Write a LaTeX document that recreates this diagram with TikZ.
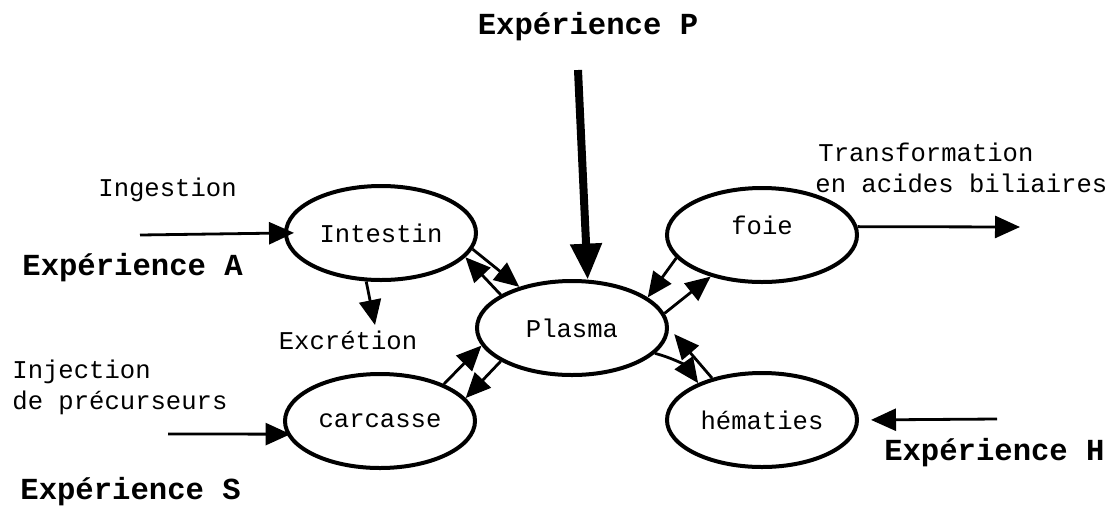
\documentclass[tikz,border=0pt]{standalone}
\usepackage{fontspec}
\setmainfont{Liberation Mono}
\usepackage{tikz}
\usetikzlibrary{shapes.geometric,arrows.meta,positioning,calc}

\begin{document}
\begin{tikzpicture}[
  x=0.5pt, y=-0.5pt,
  organe/.style={
    draw,
    ellipse,
    line width=2pt,
    minimum width=95pt,
    minimum height=47pt,
    inner sep=0pt,
    font=\fontsize{12.8}{15}\selectfont
    },
  legende/.style={font=\fontsize{12.8}{15}\selectfont, inner sep=0pt},
  experience/.style={font=\fontsize{15.3}{18}\selectfont\bfseries, inner sep=0pt},
  fleche/.style={line width=1.4pt, -{Triangle[length=12.5pt,width=11pt]}},
  grossefleche/.style={line width=4pt, -{Triangle[length=18pt,width=15pt]}}
]
\useasboundingbox (0,0) rectangle (1120,505);

% compartiments
\node[organe] (intestin) at (381,233) {\raisebox{-7pt}{Intestin}\hspace{11pt}};
\node[organe] (plasma)   at (572,328) {Plasma};
\node[organe] (foie)     at (762,235) {\raisebox{10pt}{foie}};
\node[organe] (carcasse) at (380,421) {carcasse\hspace{10pt}};
\node[organe] (hematies) at (762,420) {hématies};

% textes
\node[experience] (expP) at (588,27) {Expérience P};
\node[legende, anchor=west] (ingestion) at (98,190) {Ingestion};
\node[experience, anchor=west] (expA) at (22,268) {Expérience A};
\node[legende] (excretion) at (348,340) {Excrétion};
\node[legende, anchor=west] (injection) at (12,372) {Injection};
\node[legende, anchor=west] (precurseurs) at (12,403) {de précurseurs};
\node[experience, anchor=west] (expS) at (20,492) {Expérience S};
\node[legende, anchor=west] (transfo) at (818,152) {Transformation};
\node[legende, anchor=west] (acides) at (815,183) {en acides biliaires};
\node[experience, anchor=east] (expH) at (1105,453) {Expérience H};

% extremites libres
\coordinate (debutP) at (578,70);
\coordinate (debutA) at (140,235);
\coordinate (finExc) at (375,325);
\coordinate (debutS) at (168,434);
\coordinate (finFoie) at (1020,227);
\coordinate (debutH) at (997,419);

% fleches
\draw[grossefleche] (debutP) -- (plasma.72);
\draw[fleche, shorten >=-5pt] (debutA) -- (intestin.west);
\draw[fleche] (intestin.-107) -- (finExc);
\draw[fleche] (intestin.-10) -- (plasma.142);
\draw[fleche] (plasma.155) -- (intestin.-16);
\draw[fleche] (foie.195) -- (plasma.22);
\draw[fleche] (plasma.9) -- (foie.219);
\draw[fleche] (foie.5) -- (finFoie);
\draw[fleche, shorten >=4pt] (hematies.140) -- (plasma.east);
\draw[fleche] (plasma.-17) to[bend left=20] (hematies.150);
\draw[fleche, shorten >=6pt] (debutH) -- (hematies.east);
\draw[fleche] (carcasse.30) -- (plasma.191);
\draw[fleche] (plasma.205) -- (carcasse.15);
\draw[fleche, shorten >=-2pt] (debutS) -- (carcasse.188);
\end{tikzpicture}
\end{document}
